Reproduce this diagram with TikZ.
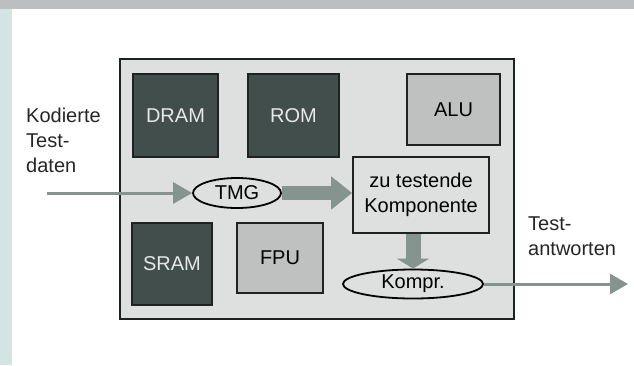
\documentclass[tikz,border=0pt]{standalone}
\usepackage{fontspec}
\setmainfont{Liberation Sans}
\usetikzlibrary{arrows.meta,shapes.geometric,calc}
\definecolor{bandgray}{HTML}{BDBEBF}
\definecolor{stripteal}{HTML}{D3E4E3}
\definecolor{mainfill}{HTML}{DDE0DF}
\definecolor{darkfill}{HTML}{414E4C}
\definecolor{lightfill}{HTML}{BFC1C1}
\definecolor{arrowgray}{HTML}{869490}
\definecolor{darktext}{HTML}{E6E8E8}
\definecolor{edge}{HTML}{1E2322}
\tikzset{
  lbl/.style={font=\fontsize{20}{25}\selectfont},
  darkbox/.style={draw=edge, line width=1.8pt, fill=darkfill, text=darktext, lbl, inner sep=0pt},
  lightbox/.style={draw=edge, line width=1.8pt, fill=lightfill, text=black, lbl, inner sep=0pt},
  compbox/.style={draw=edge, line width=1.8pt, fill=mainfill, text=black, lbl, inner sep=0pt, align=center},
  oval/.style={ellipse, draw=black, line width=1.8pt, fill=mainfill, lbl, inner sep=0pt},
  thinarrow/.style={draw=arrowgray, line width=3pt, -{Triangle[length=19pt,width=21pt]}},
  fatarrow/.style={draw=arrowgray, line width=14pt, -{Triangle[length=21pt,width=32pt]}},
  downarrow/.style={draw=arrowgray, line width=15pt, -{Triangle[length=10pt,width=32pt]}},
  sidetext/.style={lbl, align=left, anchor=north west, inner sep=0pt, text=black!85}
}
\begin{document}
\begin{tikzpicture}[x=1pt,y=-1pt]
\useasboundingbox (0,0) rectangle (634,365);
\fill[white] (0,0) rectangle (634,365);
\fill[bandgray] (0,0) rectangle (634,9);
\fill[stripteal] (0,9) rectangle (12,365);
% main chip
\draw[draw=edge, line width=1.8pt, fill=mainfill] (120,59) rectangle (514,319);
% blocks
\node[darkbox, minimum width=85pt, minimum height=83pt] (dram) at (175.5,115.5) {DRAM};
\node[darkbox, minimum width=91pt, minimum height=83pt] (rom) at (293.5,115.5) {ROM};
\node[lightbox, minimum width=93pt, minimum height=71pt] (alu) at (453.5,109.5) {ALU};
\node[darkbox, minimum width=80pt, minimum height=82pt] (sram) at (172,264) {SRAM};
\node[lightbox, minimum width=86pt, minimum height=70pt] (fpu) at (280,258) {FPU};
\node[compbox, minimum width=136pt, minimum height=76pt] (comp) at (421,195) {zu testende\\Komponente};
\node[oval, minimum width=88pt, minimum height=30pt] (tmg) at (237,193) {TMG};
\node[oval, minimum width=140pt, minimum height=29pt] (kompr) at (413,284) {Kompr.};
% connectors
\coordinate (in) at (47,193);
\coordinate (out) at (628,283);
\draw[thinarrow] (in) -- (tmg.west);
\draw[fatarrow] (tmg.east) -- (tmg.east -| comp.west);
\draw[downarrow] (kompr.north |- comp.south) -- (kompr.north);
\draw[thinarrow, -{Triangle[length=18pt,width=20pt]}] (kompr.east) -- (kompr.east -| out);
% side labels
\node[sidetext] (kod) at (26,108) {Kodierte\\Test-\\daten};
\node[sidetext] (ant) at (528,217) {Test-\\antworten};
\end{tikzpicture}
\end{document}
